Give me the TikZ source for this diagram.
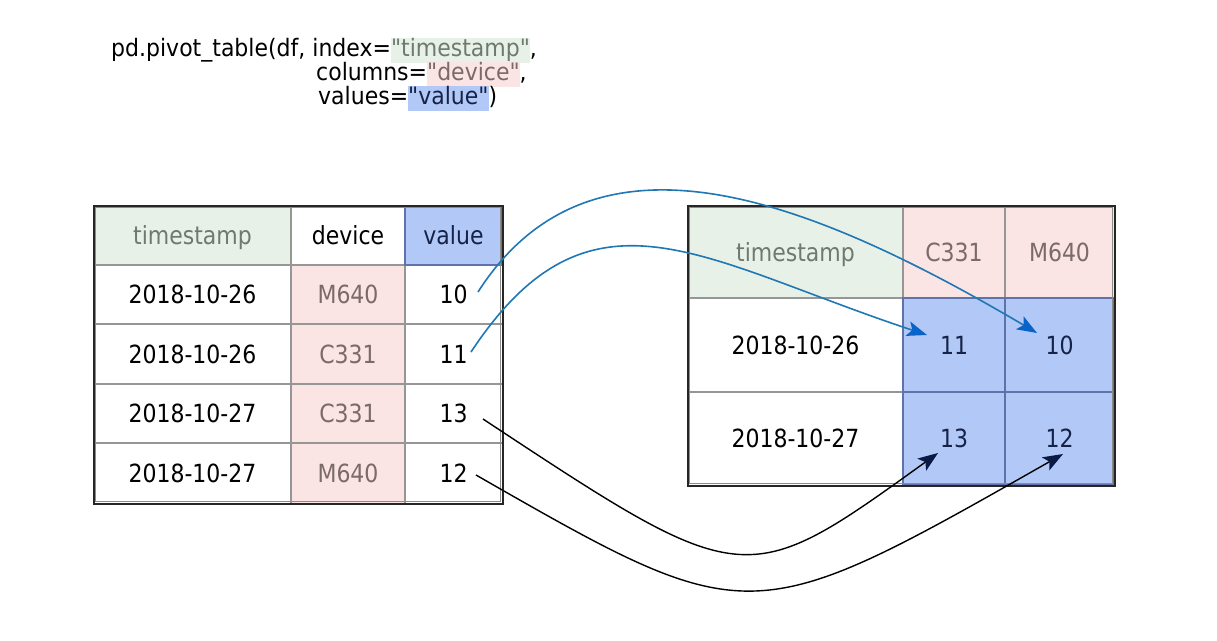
\documentclass[tikz,border=0pt]{standalone}
\usepackage{fontspec}
\setmainfont{DejaVu Sans}[FakeStretch=0.917,Ligatures=TeXOff]
\newfontfamily\tabfont{DejaVu Sans}[FakeStretch=0.88]
\usetikzlibrary{arrows.meta,calc}
\definecolor{cgreen}{RGB}{232,241,232}
\definecolor{cpink}{RGB}{251,228,228}
\definecolor{cblue}{RGB}{178,201,247}
\definecolor{tsgray}{RGB}{110,122,110}
\definecolor{pktext}{RGB}{122,106,106}
\definecolor{navy}{RGB}{22,34,72}
\definecolor{gridgray}{RGB}{150,150,150}
\definecolor{blueb}{RGB}{95,115,170}
\definecolor{arrblue}{RGB}{31,119,180}
\definecolor{headblue}{RGB}{10,100,200}
\definecolor{headnavy}{RGB}{10,25,70}
\newcommand{\hlbox}[3]{{\setlength{\fboxsep}{0pt}\colorbox{#1}{\color{#2}\rule[-7pt]{0pt}{25pt}#3}}}
\begin{document}
\begin{tikzpicture}[x=1pt,y=-1pt,
  cell/.style={font=\tabfont\fontsize{25}{30}\selectfont, text height=18.2pt, text depth=0pt, inner sep=0pt, anchor=center},
  codeline/.style={font=\fontsize{24}{28}\selectfont, inner sep=0pt, anchor=base west},
  grid/.style={draw=gridgray, line width=1.5pt},
  bgrid/.style={draw=blueb, line width=1.5pt},
  outerA/.style={draw=black!85, line width=2pt},
  outerB/.style={draw=black!45, line width=1.5pt},
  bluearrow/.style={draw=arrblue, line width=1.6pt, -{Stealth[length=20pt,width=15pt,inset=4.5pt,color=headblue]}},
  blackarrow/.style={draw=black, line width=1.4pt, -{Stealth[length=20pt,width=15pt,inset=4.5pt,color=headnavy]}}
]
\useasboundingbox[fill=white] (0,0) rectangle (1217,640);

% ---------- code ----------
\node[codeline] (code1) at (111,56) {pd.pivot\_table(df, index=\hlbox{cgreen}{tsgray}{"timestamp"},};
\node[codeline] (code2) at (316,80) {columns=\hlbox{cpink}{pktext}{"device"},};
\node[codeline] (code3) at (318,104) {values=\hlbox{cblue}{navy}{"value"})};

% ---------- left table ----------
\fill[cgreen] (94,206) rectangle (291,265);
\fill[cblue] (405,206) rectangle (502,265);
\fill[cpink] (291,265) rectangle (405,503);
\foreach \yy in {265,324,384,443} \draw[grid] (94,\yy) -- (502,\yy);
\foreach \xx in {291,405} \draw[grid] (\xx,206) -- (\xx,503);
\draw[bgrid] (405,206) rectangle (502,265);
\draw[outerB] (95.5,207.5) rectangle (500.5,501.5);
\draw[outerA] (93.5,205.5) rectangle (502.5,503.5);

\node[cell, text=tsgray] (lh1) at (192.5,235.5) {timestamp};
\node[cell, text=black] (lh2) at (348,235.5) {device};
\node[cell, text=navy] (lh3) at (453.5,235.5) {value};

\node[cell] (ld1) at (192.5,294.5) {2018-10-26};
\node[cell, text=pktext] (lc1) at (348,294.5) {M640};
\node[cell] (l10) at (453.5,294.5) {10};

\node[cell] (ld2) at (192.5,354) {2018-10-26};
\node[cell, text=pktext] (lc2) at (348,354) {C331};
\node[cell] (l11) at (453.5,354) {11};

\node[cell] (ld3) at (192.5,413.5) {2018-10-27};
\node[cell, text=pktext] (lc3) at (348,413.5) {C331};
\node[cell] (l13) at (453.5,413.5) {13};

\node[cell] (ld4) at (192.5,473) {2018-10-27};
\node[cell, text=pktext] (lc4) at (348,473) {M640};
\node[cell] (l12) at (453.5,473) {12};

% ---------- right table ----------
\fill[cgreen] (688,206) rectangle (903,298);
\fill[cpink] (903,206) rectangle (1114,298);
\fill[cblue] (903,298) rectangle (1114,485);
\draw[grid] (688,298) -- (903,298);
\draw[grid] (688,392) -- (903,392);
\draw[grid] (903,206) -- (903,298);
\draw[grid] (1005,206) -- (1005,298);
\draw[bgrid] (903,298) rectangle (1114,485);
\draw[bgrid] (1005,298) -- (1005,485);
\draw[bgrid] (903,392) -- (1114,392);
\draw[outerB] (689.5,207.5) rectangle (1112.5,483.5);
\draw[outerA] (687.5,205.5) rectangle (1114.5,485.5);

\node[cell, text=tsgray] (rh1) at (795.5,252) {timestamp};
\node[cell, text=pktext] (rh2) at (954,252) {C331};
\node[cell, text=pktext] (rh3) at (1059.5,252) {M640};

\node[cell] (rd1) at (795.5,345) {2018-10-26};
\node[cell, text=navy] (r11) at (954,345) {11};
\node[cell, text=navy] (r10) at (1059.5,345) {10};

\node[cell] (rd2) at (795.5,438.5) {2018-10-27};
\node[cell, text=navy] (r13) at (954,438.5) {13};
\node[cell, text=navy] (r12) at (1059.5,438.5) {12};

% ---------- connectors ----------
\coordinate (s10) at ($(l10.center)+(24.5,-2.5)$);
\coordinate (e10) at ($(r10.center)+(-22.5,-12)$);
\coordinate (s11) at ($(l11.center)+(17.5,-2)$);
\coordinate (e11) at ($(r11.center)+(-27,-10)$);
\coordinate (s13) at ($(l13.center)+(29.5,5.5)$);
\coordinate (e13) at ($(r13.center)+(-16,14.5)$);
\coordinate (s12) at ($(l12.center)+(22.5,2)$);
\coordinate (e12) at ($(r12.center)+(3.5,15.5)$);

\draw[bluearrow] (s10) .. controls ($(s10)+(112,-175)$) and ($(e10)+(-237,-140)$) .. (e10);
\draw[bluearrow] (s11) .. controls ($(s11)+(119,-180)$) and ($(e11)+(-227,-75)$) .. (e11);
\draw[blackarrow] (s13) .. controls ($(s13)+(262,173)$) and ($(e13)+(-193,139)$) .. (e13);
\draw[blackarrow] (s12) .. controls ($(s12)+(274,157)$) and ($(e12)+(-313,178)$) .. (e12);
\end{tikzpicture}
\end{document}
